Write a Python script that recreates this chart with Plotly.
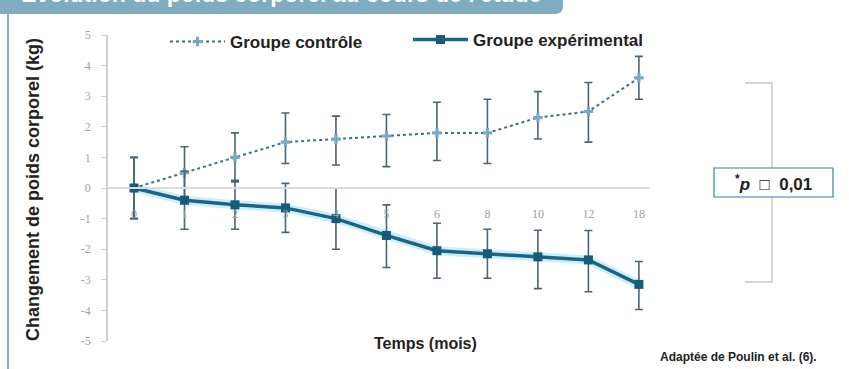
import plotly.graph_objects as go

# ---------------- data ----------------
months = ["0", "1", "2", "3", "4", "5", "6", "8", "10", "12", "18"]
y_ticks = [5, 4, 3, 2, 1, 0, -1, -2, -3, -4, -5]
y_tick_labels = ["5", "4", "3", "2", "1", "0", "-1", "-2", "-3", "-4", "-5"]

control = [0, 0.5, 1.0, 1.5, 1.6, 1.7, 1.8, 1.8, 2.3, 2.5, 3.6]
control_err_plus = [1.0, 0.85, 0.8, 0.95, 0.75, 0.7, 1.0, 1.1, 0.85, 0.95, 0.7]
control_err_minus = [1.0, 0.85, 0.8, 0.7, 0.85, 1.0, 0.9, 1.0, 0.7, 1.0, 0.7]

experimental = [0, -0.4, -0.55, -0.65, -1.0, -1.55, -2.05, -2.15, -2.25, -2.35, -3.15]
exp_err_plus = [1.0, 0.95, 0.8, 0.8, 1.0, 1.0, 0.9, 0.8, 0.87, 0.96, 0.75]
exp_err_minus = [1.0, 0.95, 0.8, 0.8, 1.0, 1.05, 0.9, 0.8, 1.04, 1.04, 0.82]

title_text = "Évolution du poids corporel au cours de l'étude"
y_title = "Changement de poids corporel (kg)"
x_title = "Temps (mois)"
source_text = "Adaptée de Poulin et al. (6)."
pval_text = "<sup>*</sup><i>p</i>\u00a0\u00a0□\u00a0\u00a00,01"

# ---------------- layout geometry (pixels) ----------------
W, H = 849, 369
L, R, T, B = 108, 650, 35, 341
PW, PH = R - L, B - T


def px(x):
    return (x - L) / PW


def py(y):
    return (B - y) / PH


FONT = "Liberation Sans, Arial, Helvetica, sans-serif"
TXT = "#222222"
HEADER = "#7FACC0"

fig = go.Figure()

# glow under experimental line
fig.add_trace(go.Scatter(
    x=months, y=experimental, mode="lines",
    line=dict(color="rgba(140,220,240,0.45)", width=9),
    hoverinfo="skip", showlegend=False,
))

fig.add_trace(go.Scatter(
    x=months, y=control, name="Groupe contrôle",
    mode="lines+markers",
    line=dict(color="#3f6f86", width=2, dash="dot"),
    marker=dict(symbol="cross", size=8, color="#79a9c0"),
    error_y=dict(type="data", array=control_err_plus, arrayminus=control_err_minus,
                 color="#4a6472", thickness=1.6, width=4),
    legend="legend",
))

fig.add_trace(go.Scatter(
    x=months, y=experimental, name="Groupe expérimental",
    mode="lines+markers",
    line=dict(color="#1c6485", width=3.5),
    marker=dict(symbol="square", size=9, color="#155b7b"),
    error_y=dict(type="data", array=exp_err_plus, arrayminus=exp_err_minus,
                 color="#4a6472", thickness=1.6, width=4),
    legend="legend2",
))

shapes = [
    # header bar with rounded bottom-right corner
    dict(type="path", xref="paper", yref="paper",
         path=f"M {px(0)},{py(-2)} L {px(563)},{py(-2)} L {px(563)},{py(6)} "
              f"Q {px(563)},{py(14)} {px(555)},{py(14)} L {px(0)},{py(14)} Z",
         fillcolor=HEADER, line=dict(width=0), layer="below"),
    # left vertical rule
    dict(type="line", xref="paper", yref="paper",
         x0=px(8), x1=px(8), y0=py(14), y1=py(372),
         line=dict(color=HEADER, width=2)),
    # bracket
    dict(type="path", xref="paper", yref="paper",
         path=f"M {px(745)},{py(83)} L {px(772)},{py(83)} L {px(772)},{py(282)} L {px(745)},{py(282)}",
         line=dict(color="#c8c8c8", width=1.5)),
    # p-value box
    dict(type="rect", xref="paper", yref="paper",
         x0=px(714), x1=px(833), y0=py(168), y1=py(197),
         fillcolor="white", line=dict(color="#3b7fa8", width=1.2)),
]

annotations = [
    dict(text=title_text, xref="paper", yref="paper", x=px(19), y=py(9),
         xanchor="left", yanchor="bottom", showarrow=False,
         font=dict(family=FONT, size=23, color="white", weight="bold")),
    dict(text=y_title, xref="paper", yref="paper", x=px(33), y=py(190),
         xanchor="center", yanchor="middle", textangle=-90, showarrow=False,
         font=dict(family=FONT, size=18, color=TXT, weight="bold")),
    dict(text=x_title, xref="paper", yref="paper", x=px(425), y=py(343),
         xanchor="center", yanchor="middle", showarrow=False,
         font=dict(family=FONT, size=16, color=TXT, weight="bold")),
    dict(text=source_text, xref="paper", yref="paper", x=px(658), y=py(357),
         xanchor="left", yanchor="middle", showarrow=False,
         font=dict(family=FONT, size=12, color=TXT, weight="bold")),
    dict(text=pval_text, xref="paper", yref="paper", x=px(773), y=py(183),
         xanchor="center", yanchor="middle", showarrow=False,
         font=dict(family=FONT, size=17, color=TXT, weight="bold")),
]

legend_common = dict(
    orientation="h", bgcolor="rgba(0,0,0,0)", borderwidth=0,
    font=dict(family=FONT, size=17, color=TXT, weight="bold"),
    yanchor="middle", xanchor="left", itemwidth=55,
)

fig.update_layout(
    width=W, height=H,
    margin=dict(l=L, r=W - R, t=T, b=H - B, autoexpand=False),
    paper_bgcolor="white", plot_bgcolor="white",
    showlegend=True,
    legend=dict(x=px(165), y=py(42), **legend_common),
    legend2=dict(x=px(408), y=py(40), **legend_common),
    shapes=shapes, annotations=annotations,
    xaxis=dict(
        type="category", range=[-0.515, 10.22],
        anchor="free", position=0.5,
        showline=True, linecolor="#dcdcdc", linewidth=1.5,
        showgrid=False, zeroline=False, ticks="",
        tickfont=dict(family="Liberation Serif, serif", size=12, color="#9aa3a8"),
        ticklabelstandoff=15,
    ),
    yaxis=dict(
        range=[-5, 5], tickvals=y_ticks, ticktext=y_tick_labels,
        showline=True, linecolor="#cfcfcf", linewidth=1.5,
        ticks="outside", ticklen=5, tickcolor="#cfcfcf",
        showgrid=False, zeroline=False,
        tickfont=dict(family="Liberation Serif, serif", size=12, color="#9aa3a8"),
        ticklabelstandoff=8,
    ),
)

fig.write_html(
    "out.html",
    config={"displayModeBar": False},
    post_script="document.body.style.margin='0';document.body.style.padding='0';",
)
